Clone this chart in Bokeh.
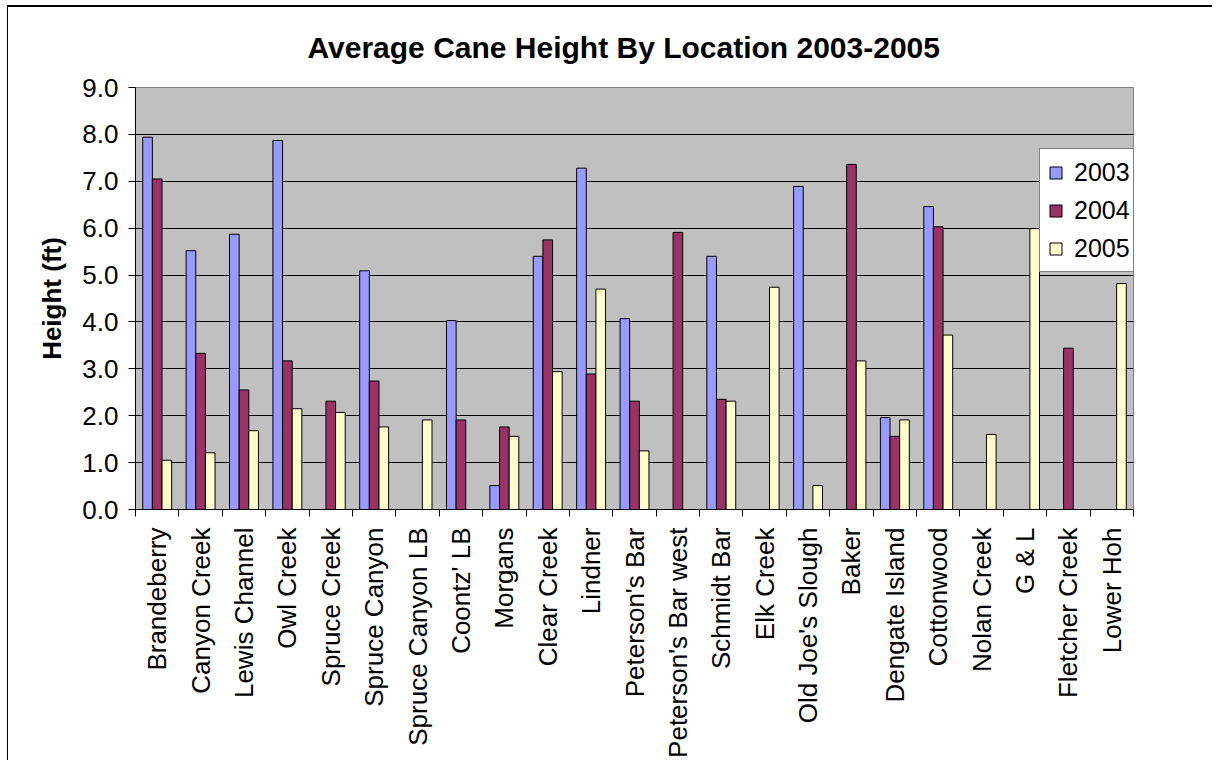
import math
from bokeh.plotting import figure
from bokeh.models import (ColumnDataSource, FixedTicker, Legend, LegendItem,
                          NumeralTickFormatter)
from bokeh.embed import file_html
from bokeh.resources import INLINE

locations = ["Brandeberry", "Canyon Creek", "Lewis Channel", "Owl Creek", "Spruce Creek",
             "Spruce Canyon", "Spruce Canyon LB", "Coontz' LB", "Morgans", "Clear Creek",
             "Lindner", "Peterson's Bar", "Peterson's Bar west", "Schmidt Bar", "Elk Creek",
             "Old Joe's Slough", "Baker", "Dengate Island", "Cottonwood", "Nolan Creek",
             "G & L", "Fletcher Creek", "Lower Hoh"]
h2003 = [7.94, 5.52, 5.87, 7.87, None, 5.09, None, 4.03, 0.51, 5.40, 7.28, 4.07, None,
         5.40, None, 6.89, None, 1.96, 6.46, None, None, None, None]
h2004 = [7.05, 3.33, 2.55, 3.17, 2.31, 2.74, None, 1.91, 1.76, 5.75, 2.89, 2.31, 5.91,
         2.35, None, None, 7.36, 1.56, 6.03, None, None, 3.44, None]
h2005 = [1.05, 1.21, 1.68, 2.15, 2.07, 1.76, 1.91, None, 1.56, 2.94, 4.70, 1.25, None,
         2.31, 4.74, 0.51, 3.17, 1.91, 3.72, 1.60, 5.99, None, 4.82]
years = ["2003", "2004", "2005"]
series = [h2003, h2004, h2005]
colors = ["#9999FF", "#993366", "#FFFFCC"]
y_ticks = [0, 1, 2, 3, 4, 5, 6, 7, 8, 9]
title_text = "Average Cane Height By Location 2003-2005"
y_label = "Height (ft)"

FONT = "Liberation Sans"
n = len(locations)
bw = 1 / 4.5

p = figure(width=1212, height=760, x_range=(0, n), y_range=(0, 9),
           output_backend="svg", toolbar_location=None,
           min_border_left=135, min_border_right=79, min_border_top=87,
           min_border_bottom=250)
# chart-area border (top and left edges visible in the reference)
p.styles = {
    "background-color": "white",
    "background-image": "linear-gradient(#000,#000), linear-gradient(#000,#000)",
    "background-size": "1px 100%, 100% 2px",
    "background-position": "7px 5px, 7px 5px",
    "background-repeat": "no-repeat",
}
p.border_fill_alpha = 0

p.title.text = title_text
p.title.text_font = FONT
p.title.text_font_size = "30px"
p.title.text_font_style = "bold"
p.title.text_color = "black"
p.title.align = "left"
p.title.offset = 172
p.title.standoff = 47

p.background_fill_color = "#C0C0C0"
p.outline_line_color = "#808080"
p.outline_line_width = 1

p.xgrid.grid_line_color = None
p.ygrid.grid_line_color = "black"
p.ygrid.grid_line_width = 1
p.ygrid.ticker = FixedTicker(ticks=y_ticks)

renderers = []
for j, (yr, vals, col) in enumerate(zip(years, series, colors)):
    xs, tops = [], []
    for i, v in enumerate(vals):
        if v is not None:
            xs.append(i + 0.5 + (j - 1) * bw)
            tops.append(v)
    src = ColumnDataSource(dict(x=xs, top=tops))
    r = p.vbar(x="x", top="top", width=bw, bottom=0, source=src,
               fill_color=col, line_color="black", line_width=1)
    renderers.append((yr, r))

# Y axis
ya = p.yaxis[0]
ya.ticker = FixedTicker(ticks=y_ticks, minor_ticks=[])
ya.formatter = NumeralTickFormatter(format="0.0")
ya.major_label_text_font = FONT
ya.major_label_text_font_size = "26px"
ya.major_label_text_color = "black"
ya.major_tick_out = 7
ya.major_tick_in = 0
ya.minor_tick_out = 0
ya.minor_tick_in = 0
ya.major_label_standoff = 10
ya.axis_line_color = "black"
ya.major_tick_line_color = "black"
ya.axis_label = y_label
ya.axis_label_text_font = FONT
ya.axis_label_text_font_size = "26px"
ya.axis_label_text_font_style = "bold"
ya.axis_label_text_color = "black"
ya.axis_label_standoff = 12

# X axis
xa = p.xaxis[0]
xa.ticker = FixedTicker(ticks=[i + 0.5 for i in range(n)],
                        minor_ticks=list(range(n + 1)))
xa.major_label_overrides = {i + 0.5: name for i, name in enumerate(locations)}
xa.major_label_orientation = math.pi / 2
xa.major_label_text_font = FONT
xa.major_label_text_font_size = "26px"
xa.major_label_text_color = "black"
xa.major_tick_out = 0
xa.major_tick_in = 0
xa.minor_tick_out = 7
xa.minor_tick_in = 0
xa.minor_tick_line_color = "black"
xa.major_label_standoff = 11
xa.axis_line_color = "black"

legend = Legend(items=[LegendItem(label=yr, renderers=[r]) for yr, r in renderers],
                location=(904, 237))
legend.border_line_color = "black"
legend.border_line_width = 1
legend.background_fill_color = "white"
legend.background_fill_alpha = 1
legend.label_text_font = FONT
legend.label_text_font_size = "25px"
legend.label_text_color = "black"
legend.glyph_width = 15
legend.glyph_height = 15
legend.label_standoff = 11
legend.padding = 8
legend.spacing = 8
legend.label_height = 30
legend.margin = 0
p.add_layout(legend)

open("out.html", "w").write(file_html(p, INLINE))
